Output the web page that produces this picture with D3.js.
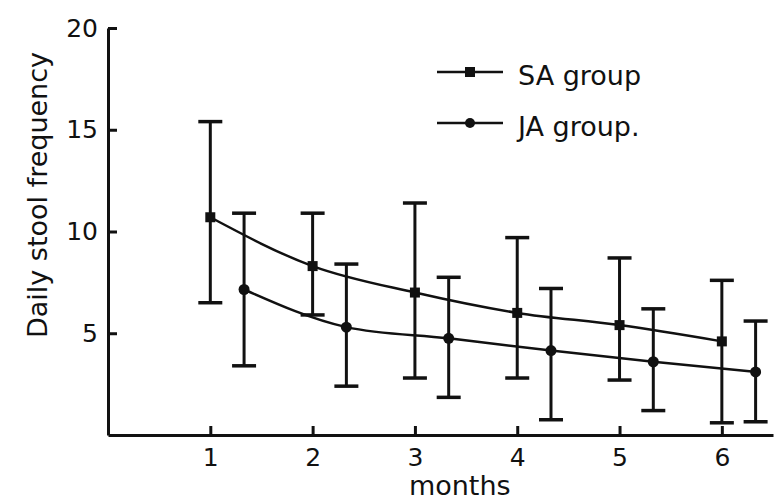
<!DOCTYPE html>
<html>
<head>
<meta charset="utf-8">
<script src="https://cdn.jsdelivr.net/npm/d3@7"></script>
<style>
  body { margin: 0; background: #fff; }
  svg { display: block; }
  text { font-family: "DejaVu Sans", sans-serif; fill: #111; }
  .axis path, .axis line { stroke: #111; stroke-width: 3; }
  .axis text { font-size: 25px; font-family: "DejaVu Sans", sans-serif; fill: #111; }
</style>
</head>
<body>
<div id="chart"></div>
<script>
// values
var months = [1, 2, 3, 4, 5, 6];
var xTicks = [1, 2, 3, 4, 5, 6];
var yTicks = [5, 10, 15, 20];

var saMean  = [10.7, 8.3, 7.0, 6.0, 5.4, 4.6];
var saUpper = [15.4, 10.9, 11.4, 9.7, 8.7, 7.6];
var saLower = [6.5, 5.9, 2.8, 2.8, 2.7, 0.6];

var jaMean  = [7.15, 5.3, 4.75, 4.15, 3.6, 3.1];
var jaUpper = [10.9, 8.4, 7.75, 7.2, 6.2, 5.6];
var jaLower = [3.4, 2.4, 1.85, 0.75, 1.2, 0.65];

var seriesNames = ["SA group", "JA group."];

var width = 784, height = 502;
var margin = {top: 28, right: 11, bottom: 67, left: 108};
var w = width - margin.left - margin.right,
    h = height - margin.top - margin.bottom;
var jaOffset = 0.33; // JA drawn a little right of SA

var x = d3.scaleLinear().domain([0, 6.5]).range([0, w]);
var y = d3.scaleLinear().domain([0, 20]).range([h, 0]);

var svg = d3.select("#chart").append("svg")
    .attr("width", width)
    .attr("height", height)
  .append("g")
    .attr("transform", "translate(" + margin.left + "," + margin.top + ")");

svg.append("g")
    .attr("class", "axis axis--y")
    .call(d3.axisLeft(y).tickValues(yTicks).tickFormat(d3.format("d"))
            .tickSizeInner(-9).tickSizeOuter(0).tickPadding(10));

svg.append("g")
    .attr("class", "axis axis--x")
    .attr("transform", "translate(0," + h + ")")
    .call(d3.axisBottom(x).tickValues(xTicks).tickFormat(d3.format("d"))
            .tickSizeInner(-9).tickSizeOuter(0).tickPadding(13));

svg.append("text")
    .attr("transform", "translate(" + (47 - margin.left) + "," + (195 - margin.top) + ") rotate(-90)")
    .attr("text-anchor", "middle")
    .style("font-size", "27px")
    .text("Daily stool frequency");

svg.append("text")
    .attr("x", x(3.0) - 6)
    .attr("y", h + 60)
    .style("font-size", "27px")
    .text("months");

function build(mean, upper, lower, off) {
  return months.map(function(m, i) {
    return {m: m + off, v: mean[i], hi: upper[i], lo: lower[i]};
  });
}
var sa = build(saMean, saUpper, saLower, 0);
var ja = build(jaMean, jaUpper, jaLower, jaOffset);

var line = d3.line()
    .x(function(d) { return x(d.m); })
    .y(function(d) { return y(d.v); })
    .curve(d3.curveMonotoneX);

[sa, ja].forEach(function(data, k) {
  var g = svg.append("g").attr("class", "series s" + k);
  g.selectAll(".err")
      .data(data)
    .enter().append("line")
      .attr("x1", function(d) { return x(d.m); })
      .attr("x2", function(d) { return x(d.m); })
      .attr("y1", function(d) { return y(d.hi); })
      .attr("y2", function(d) { return y(d.lo); })
      .attr("stroke", "#111").attr("stroke-width", 3);
  ["hi", "lo"].forEach(function(key) {
    g.selectAll(".cap-" + key)
        .data(data)
      .enter().append("line")
        .attr("x1", function(d) { return x(d.m) - 12; })
        .attr("x2", function(d) { return x(d.m) + 12; })
        .attr("y1", function(d) { return y(d[key]); })
        .attr("y2", function(d) { return y(d[key]); })
        .attr("stroke", "#111").attr("stroke-width", 3.5);
  });
  g.append("path")
      .datum(data)
      .attr("d", line)
      .attr("fill", "none")
      .attr("stroke", "#111")
      .attr("stroke-width", 2.5);
  if (k == 0) {
    g.selectAll(".pt")
        .data(data)
      .enter().append("rect")
        .attr("x", function(d) { return x(d.m) - 5; })
        .attr("y", function(d) { return y(d.v) - 5; })
        .attr("width", 10).attr("height", 10)
        .attr("fill", "#111");
  } else {
    g.selectAll(".pt")
        .data(data)
      .enter().append("circle")
        .attr("cx", function(d) { return x(d.m); })
        .attr("cy", function(d) { return y(d.v); })
        .attr("r", 5.5)
        .attr("fill", "#111");
  }
});

// legend
var legend = svg.append("g")
    .attr("transform", "translate(" + (437 - margin.left) + "," + (72 - margin.top) + ")");
seriesNames.forEach(function(name, k) {
  var row = legend.append("g").attr("transform", "translate(0," + (k * 51) + ")");
  row.append("line")
      .attr("x1", 0).attr("x2", 66).attr("y1", 0).attr("y2", 0)
      .attr("stroke", "#111").attr("stroke-width", 2.5);
  if (k == 0) {
    row.append("rect").attr("x", 28).attr("y", -5).attr("width", 10).attr("height", 10).attr("fill", "#111");
  } else {
    row.append("circle").attr("cx", 33).attr("cy", 0).attr("r", 5).attr("fill", "#111");
  }
  row.append("text")
      .attr("x", 81)
      .attr("y", 13)
      .style("font-size", "27px")
      .text(name);
});
</script>
</body>
</html>
